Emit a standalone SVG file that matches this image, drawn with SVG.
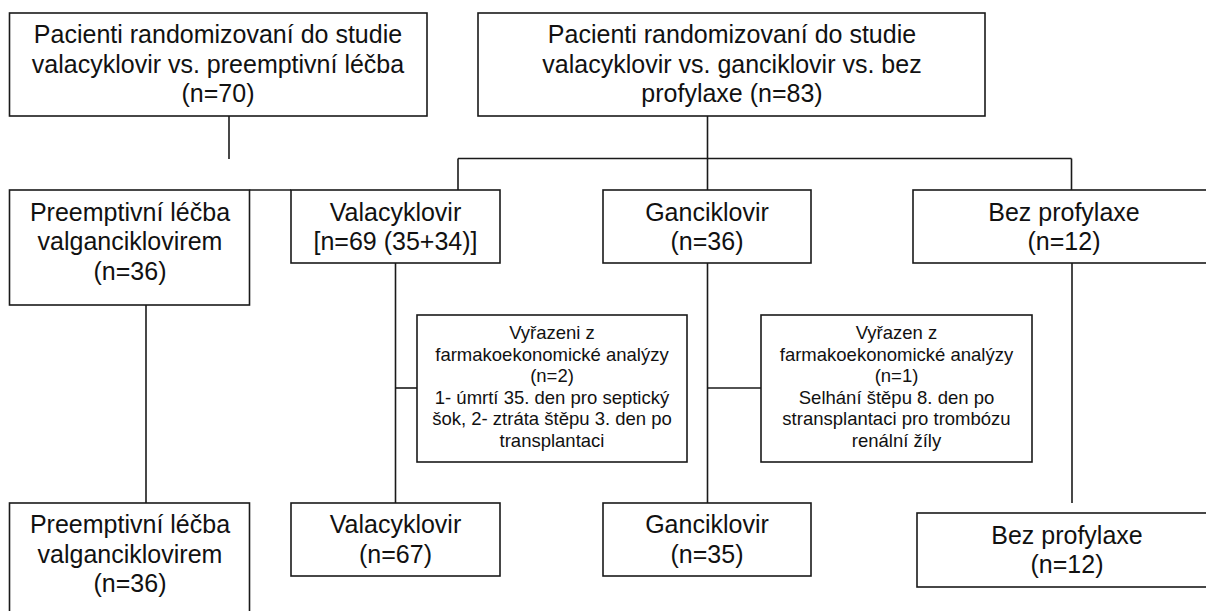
<svg xmlns="http://www.w3.org/2000/svg" width="1206" height="611" viewBox="0 0 1206 611">
<style>
.box{fill:#fff;stroke:#1a1a1a;stroke-width:1.6}
.c{fill:none;stroke:#1a1a1a;stroke-width:1.6}
text{font-family:"Liberation Sans",Arial,sans-serif;fill:#111;text-anchor:middle}
.t{font-size:25px}
.s{font-size:18.5px}
</style>
<rect width="1206" height="611" fill="#fff"/>
<g id="connectors">
<path class="c" d="M229,116V159"/>
<path class="c" d="M249.5,190H291"/>
<path class="c" d="M707.5,116V190"/>
<path class="c" d="M458,158.5H1071.5"/>
<path class="c" d="M458,158.5V190"/>
<path class="c" d="M1071.5,158.5V190"/>
<path class="c" d="M146,305V503"/>
<path class="c" d="M395.5,263V503"/>
<path class="c" d="M395.5,388H417"/>
<path class="c" d="M707.5,263V503"/>
<path class="c" d="M707.5,388H761"/>
<path class="c" d="M1072,263V503"/>
</g>
<g id="n-top-left">
<rect class="box" x="9.5" y="13" width="417.5" height="103"/>
<text class="t" x="218" y="43">Pacienti randomizovaní do studie</text>
<text class="t" x="218" y="73">valacyklovir vs. preemptivní léčba</text>
<text class="t" x="218" y="102">(n=70)</text>
</g>
<g id="n-top-right">
<rect class="box" x="478" y="13" width="507" height="103"/>
<text class="t" x="732" y="43">Pacienti randomizovaní do studie</text>
<text class="t" x="732" y="73">valacyklovir vs. ganciklovir vs. bez</text>
<text class="t" x="732" y="102">profylaxe (n=83)</text>
</g>
<g id="n-preempt-1">
<rect class="box" x="9.5" y="190" width="240" height="115"/>
<text class="t" x="130" y="220.5">Preemptivní léčba</text>
<text class="t" x="130" y="250">valganciklovirem</text>
<text class="t" x="130" y="279.5">(n=36)</text>
</g>
<g id="n-vala-1">
<rect class="box" x="291" y="190" width="209" height="73"/>
<text class="t" x="395.5" y="220.5">Valacyklovir</text>
<text class="t" x="395.5" y="250">[n=69 (35+34)]</text>
</g>
<g id="n-ganc-1">
<rect class="box" x="603" y="190" width="208" height="73"/>
<text class="t" x="707" y="220.5">Ganciklovir</text>
<text class="t" x="707" y="250">(n=36)</text>
</g>
<g id="n-bez-1">
<rect class="box" x="913" y="190" width="320" height="73"/>
<text class="t" x="1064" y="220.5">Bez profylaxe</text>
<text class="t" x="1064" y="250">(n=12)</text>
</g>
<g id="n-excl-1">
<rect class="box" x="417" y="315" width="270" height="147"/>
<text class="s" x="552" y="339">Vyřazeni z</text>
<text class="s" x="552" y="360.5">farmakoekonomické analýzy</text>
<text class="s" x="552" y="382">(n=2)</text>
<text class="s" x="552" y="403.5">1- úmrtí  35. den pro septický</text>
<text class="s" x="552" y="425">šok, 2- ztráta štěpu 3. den po</text>
<text class="s" x="552" y="446.5">transplantaci</text>
</g>
<g id="n-excl-2">
<rect class="box" x="761" y="315" width="271" height="147"/>
<text class="s" x="896.5" y="339">Vyřazen z</text>
<text class="s" x="896.5" y="360.5">farmakoekonomické analýzy</text>
<text class="s" x="896.5" y="382">(n=1)</text>
<text class="s" x="896.5" y="403.5">Selhání štěpu 8. den po</text>
<text class="s" x="896.5" y="425">stransplantaci pro trombózu</text>
<text class="s" x="896.5" y="446.5">renální žíly</text>
</g>
<g id="n-preempt-2">
<rect class="box" x="9.5" y="503" width="240" height="130"/>
<text class="t" x="130" y="533">Preemptivní léčba</text>
<text class="t" x="130" y="562.5">valganciklovirem</text>
<text class="t" x="130" y="592">(n=36)</text>
</g>
<g id="n-vala-2">
<rect class="box" x="291" y="503" width="209" height="73"/>
<text class="t" x="395.5" y="533">Valacyklovir</text>
<text class="t" x="395.5" y="562.5">(n=67)</text>
</g>
<g id="n-ganc-2">
<rect class="box" x="603" y="503" width="208" height="73"/>
<text class="t" x="707" y="533">Ganciklovir</text>
<text class="t" x="707" y="562.5">(n=35)</text>
</g>
<g id="n-bez-2">
<rect class="box" x="917" y="513" width="320" height="74"/>
<text class="t" x="1067" y="543.5">Bez profylaxe</text>
<text class="t" x="1067" y="573">(n=12)</text>
</g>
</svg>
